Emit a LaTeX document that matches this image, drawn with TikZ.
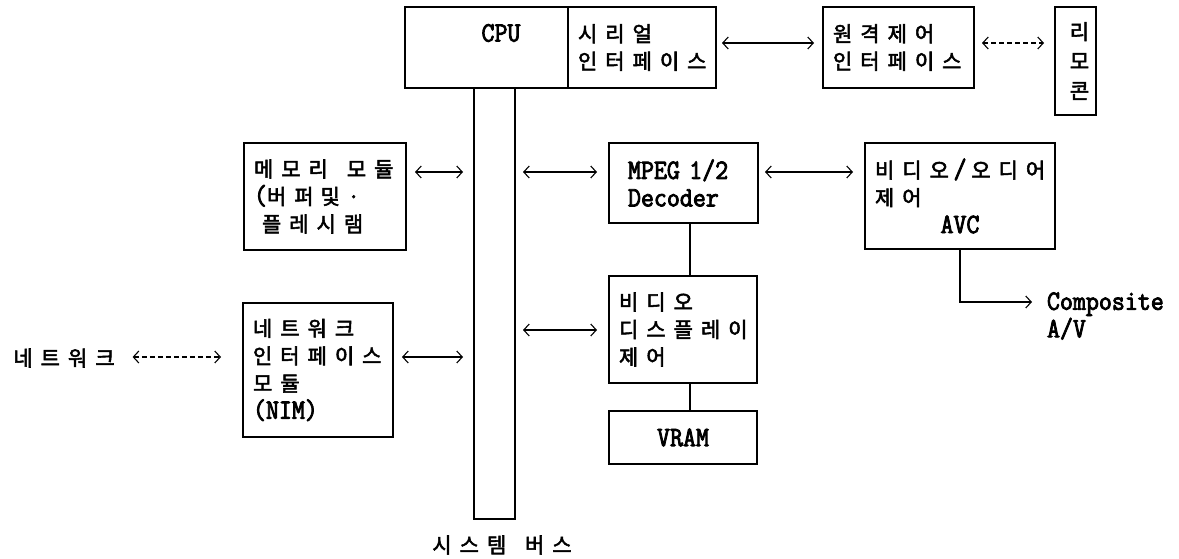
\documentclass[tikz,border=0pt]{standalone}
\usepackage{fontspec}
\usetikzlibrary{arrows.meta,calc}
\newfontfamily\kr[LetterSpace=38,FakeBold=2.5]{Noto Sans CJK KR}
\newfontfamily\lat[FakeStretch=0.9,FakeBold=3]{Latin Modern Mono}
\newcommand\krtext{\kr\fontsize{21}{27.5}\selectfont}
\newcommand\lattext{\lat\fontsize{28}{27.5}\selectfont}

\tikzset{
  box/.style={draw, line width=1.3pt, inner sep=0pt, outer sep=0pt},
  kbox/.style={box, font=\krtext, align=left, inner xsep=10pt, inner ysep=0pt},
  lbl/.style={inner sep=0pt, outer sep=0pt},
  barb/.tip={Straight Barb[length=5.5pt,width=12pt,line width=1.1pt]},
  bi/.style={line width=1.1pt, barb-barb},
  dbi/.style={bi, dash pattern=on 5pt off 3pt},
  onearrow/.style={line width=1.1pt, -barb},
  link/.style={line width=1.3pt}
}

\begin{document}
\begin{tikzpicture}[x=1pt,y=-1pt]
\useasboundingbox (0,0) rectangle (1179,559);

% signal rows and columns
\coordinate (row1) at (0,43);
\coordinate (row2) at (0,172);
\coordinate (row3) at (0,330);
\coordinate (row4) at (0,357);
\coordinate (row5) at (0,302);
\coordinate (colv) at (690,0);

% system bus
\node[box, minimum width=41pt, minimum height=431pt] (bus) at (494.5,303.5) {};
\node[lbl, font=\krtext] (buslbl) at (502,545) {시스템\hspace{6pt} 버스};

% top row
\node[box, fill=white, minimum width=163pt, minimum height=81pt] (cpu) at (486.5,47.5) {};
\node[lbl, font=\lattext] (cpulbl) at (501,33) {CPU};
\node[kbox, minimum width=148pt, text width=128pt, minimum height=81pt] (serial) at (642,47.5) {시리얼\\인터페이스};
\node[kbox, minimum width=151pt, text width=131pt, minimum height=81pt] (remote) at (898.5,47.5) {원격제어\\인터페이스};
\node[box, font=\krtext\fontsize{21}{29.5}\selectfont, align=center, inner xsep=0pt, text width=41pt, minimum height=108pt] (rmc) at (1075.5,61) {\hspace*{8pt}리\\\hspace*{8pt}모\\\hspace*{8pt}콘};

% left column
\node[kbox, minimum width=162pt, text width=142pt, minimum height=107pt] (mem) at (325,196.5) {메모리\hspace{12pt} 모듈\\{\lattext(}버퍼 및·\\\hspace*{8pt}플레시램};
\node[kbox, minimum width=150pt, text width=130pt, minimum height=134pt] (nim) at (318,370) {네트워크\\인터페이스\\모듈\\{\lattext(NIM)}};
\node[lbl, font=\krtext] (net) at (64,358) {네트워크};

% middle column
\node[box, font=\lattext, align=left, inner xsep=19pt, minimum width=149pt, text width=111pt, minimum height=80pt] (mpeg) at (683.5,183) {MPEG 1/2\\Decoder};
\node[kbox, minimum width=148pt, text width=128pt, minimum height=107pt] (vdc) at (683,329.5) {비디오\\디스플레이\\제어};
\node[box, font=\lattext, minimum width=148pt, minimum height=53pt] (vram) at (683,437.5) {VRAM};

% right column
\node[kbox, minimum width=190pt, text width=170pt, minimum height=106pt] (avc) at (960,196) {비디오{\lattext\,/\,}오디어\\제어\\\makebox[170pt]{\lattext AVC}};
\node[lbl, font=\lattext, align=left, anchor=west] (comp) at (1047,316) {Composite\\A/V};

% connectors
\draw[bi]  ($(serial.east|-row1)+(6,0)$) -- ($(remote.west|-row1)+(-9,0)$);
\draw[dbi] ($(remote.east|-row1)+(8,0)$) -- ($(rmc.west|-row1)+(-11,0)$);
\draw[bi]  ($(mem.east|-row2)+(9,0)$) -- ($(bus.west|-row2)+(-11,0)$);
\draw[bi]  ($(bus.east|-row2)+(8,0)$) -- ($(mpeg.west|-row2)+(-12,0)$);
\draw[bi]  ($(mpeg.east|-row2)+(7,0)$) -- ($(avc.west|-row2)+(-12,0)$);
\draw[bi]  ($(bus.east|-row3)+(8,0)$) -- ($(vdc.west|-row3)+(-12,0)$);
\draw[bi]  ($(nim.east|-row4)+(9,0)$) -- ($(bus.west|-row4)+(-11,0)$);
\draw[dbi] ($(net.east|-row4)+(18,0)$) -- ($(nim.west|-row4)+(-22,0)$);
\draw[link] (mpeg.south-|colv) -- (vdc.north-|colv);
\draw[link] (vdc.south-|colv) -- (vram.north-|colv);
\draw[onearrow] (avc.south) -- (avc.south|-row5) -- ($(comp.west|-row5)+(-15,0)$);
\end{tikzpicture}
\end{document}
